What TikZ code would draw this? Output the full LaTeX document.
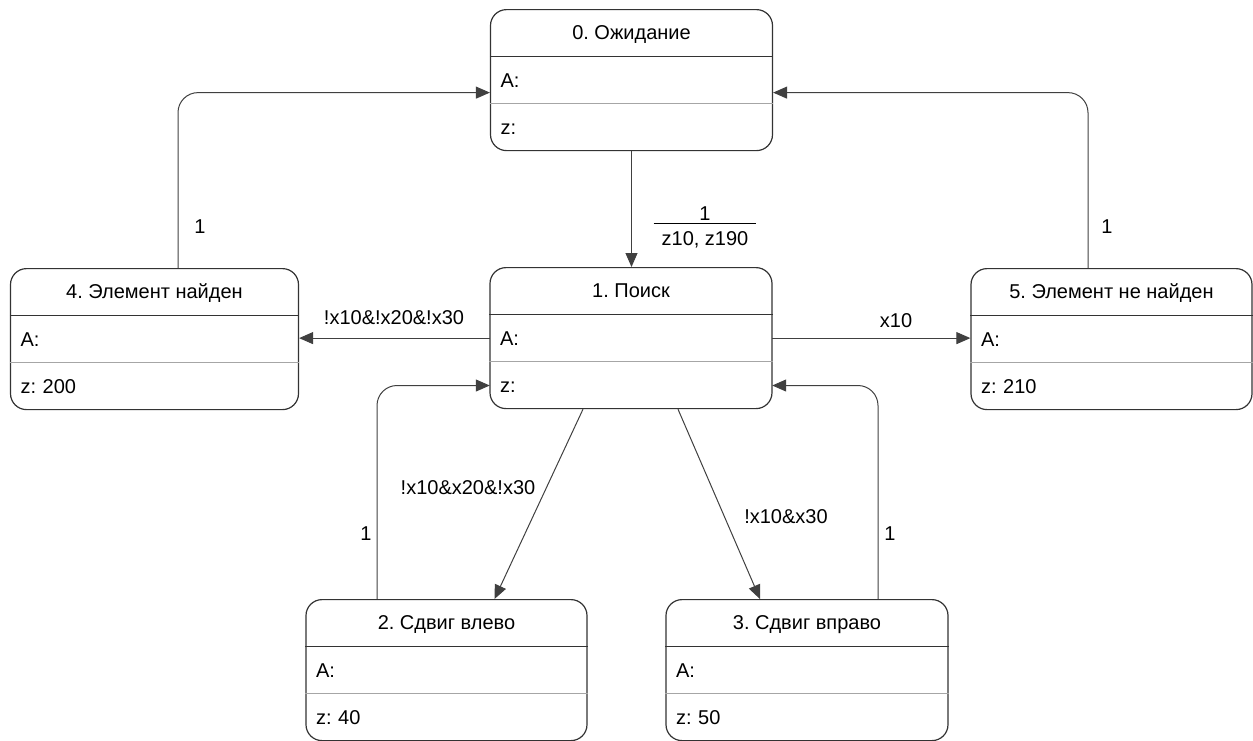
\documentclass[tikz,border=0pt]{standalone}
\usepackage{fontspec}
\setmainfont{Liberation Sans}
\usetikzlibrary{arrows.meta,calc}
\setlength\arrayrulewidth{1pt}
\frenchspacing

\tikzset{
  stframe/.style={draw=black!80, line width=1.2pt, rounded corners=16pt,
    minimum height=141pt, inner sep=0pt},
  sttitle/.style={minimum height=47pt, inner sep=0pt, align=center,
    text height=14.3pt, text depth=0pt},
  strow/.style={minimum height=47pt, inner ysep=0pt, inner xsep=10pt,
    align=left, text height=14.3pt, text depth=0pt},
  divblack/.style={draw=black!80, line width=1pt},
  divgrey/.style={draw=black!35, line width=1.2pt},
  conn/.style={draw=black!75, line width=1pt,
    -{Triangle[length=14pt,width=12pt]}},
  lbl/.style={inner sep=0pt},
}

% state box: name, centre x, top y, width, title, z-row text
\newcommand\statebox[6]{%
  \pgfmathsetlengthmacro\rowtw{#4pt-20pt}%
  \node[stframe, minimum width=#4pt, anchor=north] (#1) at (#2,#3) {};
  \node[sttitle, minimum width=#4pt, anchor=north] (#1t) at (#1.north) {#5};
  \node[strow, text width=\rowtw, anchor=north] (#1a) at (#1t.south) {A:};
  \node[strow, text width=\rowtw, anchor=north] (#1z) at (#1a.south) {#6};
  \draw[divblack] (#1t.south -| #1.west) -- (#1t.south -| #1.east);
  \draw[divgrey] (#1a.south -| #1.west) -- (#1a.south -| #1.east);
}

\begin{document}
\begin{tikzpicture}[x=1pt, y=-1pt, font=\fontsize{20}{24}\selectfont\frenchspacing]
\useasboundingbox (0,0) rectangle (1253,740);

\statebox{s0}{631.5}{9}{282}{0. Ожидание}{z:}
\statebox{s1}{631}{267}{282}{1. Поиск}{z:}
\statebox{s4}{154.5}{268}{288}{4. Элемент найден}{z: 200}
\statebox{s5}{1111.5}{268}{281}{5. Элемент не найден}{z: 210}
\statebox{s2}{446.5}{599}{281}{2. Сдвиг влево}{z: 40}
\statebox{s3}{807}{599}{282}{3. Сдвиг вправо}{z: 50}

% transitions
\draw[conn] (s0.south) -- (s0.south |- s1.north);
\draw[conn] (s1a.west) -- (s1a.west -| s4.east);
\draw[conn] (s1a.east) -- (s1a.east -| s5.west);
\draw[conn, rounded corners=20pt] ([xshift=23.5pt]s4.north) |- ([yshift=-12.5pt]s0.west);
\draw[conn, rounded corners=20pt] ([xshift=-23.5pt]s5.north) |- ([yshift=-12.5pt]s0.east);
\draw[conn] ([xshift=-48pt]s1.south) -- ([xshift=48pt]s2.north);
\draw[conn] ([xshift=47pt]s1.south) -- ([xshift=-47pt]s3.north);
\draw[conn, rounded corners=20pt] ([xshift=-69.5pt]s2.north) |- (s1z.west);
\draw[conn, rounded corners=20pt] ([xshift=71pt]s3.north) |- (s1z.east);

% transition labels
\node[lbl] (l01) at (705,228.5) {\begin{tabular}{@{\hspace{8pt}}c@{\hspace{8pt}}}1\\[-5pt]\hline \rule{0pt}{22pt}z10, z190\end{tabular}};
\node[lbl] (l14) at (394,318) {!x10\&!x20\&!x30};
\node[lbl] (l15) at (896,321) {x10};
\node[lbl] (l40) at (200,227) {1};
\node[lbl] (l50) at (1107,227) {1};
\node[lbl] (l12) at (468,488) {!x10\&x20\&!x30};
\node[lbl] (l13) at (786,517) {!x10\&x30};
\node[lbl] (l21) at (366,534) {1};
\node[lbl] (l31) at (890,534) {1};
\end{tikzpicture}
\end{document}
